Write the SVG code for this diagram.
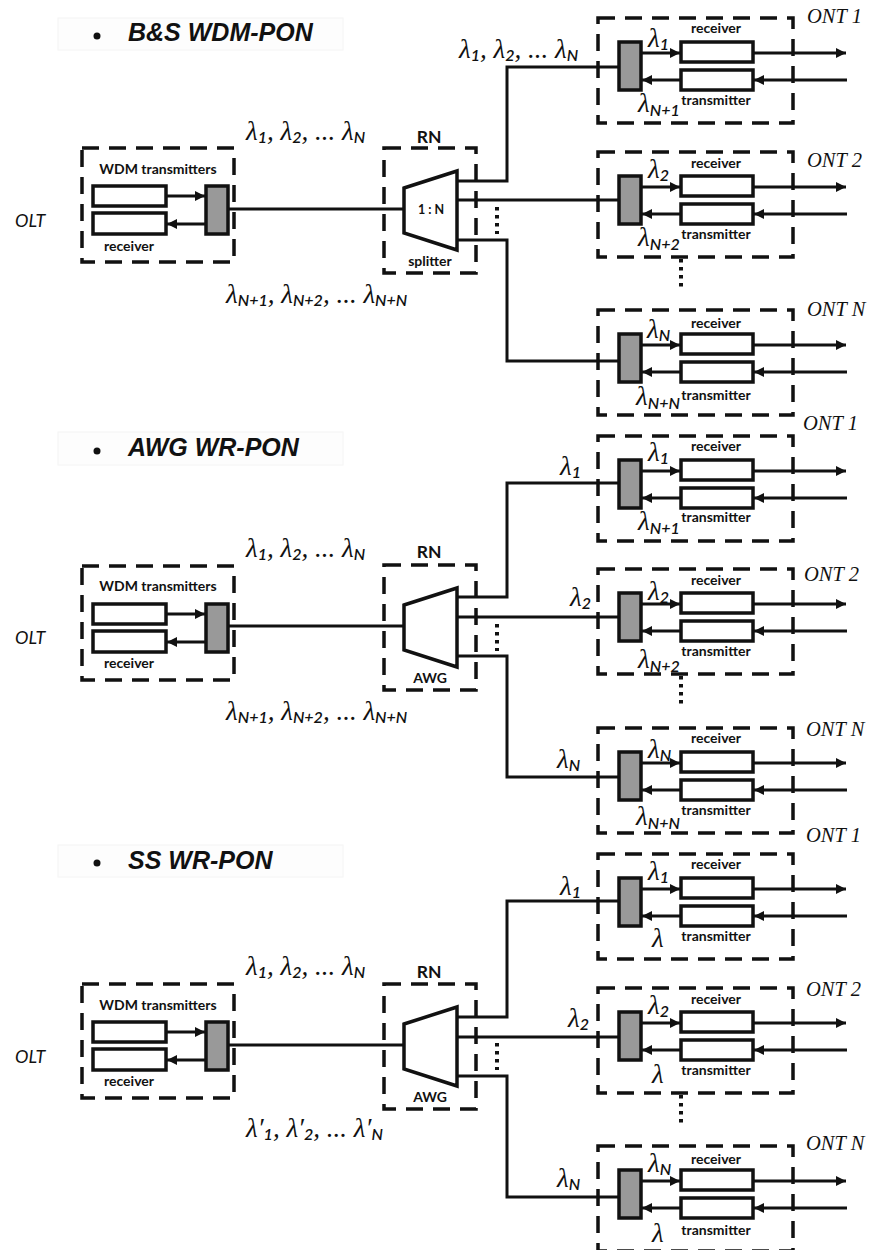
<svg xmlns="http://www.w3.org/2000/svg" xmlns:xlink="http://www.w3.org/1999/xlink" width="869" height="1250" viewBox="0 0 869 1250">
<style>
text{fill:#111}
.t{font:italic bold 25px "Liberation Sans",sans-serif}
.l{font:italic 27px "Liberation Serif",serif}
.s{font:italic 600 16px "Lato",sans-serif}
.b{font:bold 14px "Lato",sans-serif;text-anchor:middle}
.rn{font:bold 17.5px "Lato",sans-serif;text-anchor:middle}
.olt{font:italic 18px "Lato",sans-serif}
.ont{font:italic 20.5px "Liberation Serif",serif}
.d{fill:none;stroke:#111;stroke-width:3.5;stroke-dasharray:17 10}
.w{fill:#fff;stroke:#111;stroke-width:3.5}
.g{fill:#999;stroke:#111;stroke-width:3.5}
.c{fill:none;stroke:#111;stroke-width:3}
.a{fill:none;stroke:#111;stroke-width:3;marker-end:url(#h)}
.v{fill:none;stroke:#111;stroke-width:4;stroke-dasharray:3.5 4.5}
.p{fill:#fdfdfd;stroke:#f4f4f4}
</style>
<defs>
<marker id="h" markerUnits="userSpaceOnUse" markerWidth="12" markerHeight="12" refX="10" refY="6" orient="auto"><path d="M0 1L10 6L0 11Z" fill="#111"/></marker>
<g id="ont-s">
<rect class="d" x="598" y="0" width="195" height="105"/>
<rect class="w" x="681" y="24" width="72" height="20"/>
<rect class="w" x="681" y="52" width="72" height="20"/>
<rect class="g" x="619" y="24" width="22" height="48"/>
<path class="a" d="M641 35H680"/><path class="a" d="M681 62H642"/><path class="a" d="M753 35H846"/><path class="a" d="M847 62H754"/>
</g>
<g id="olt-s">
<rect class="d" x="82" y="0" width="152" height="114"/>
<rect class="w" x="93" y="38" width="73" height="20"/>
<rect class="w" x="93" y="65" width="73" height="21"/>
<rect class="g" x="206" y="38" width="22" height="48"/>
<path class="a" d="M166 48H205"/><path class="a" d="M206 76H167"/>
</g>
<g id="rn-s">
<rect class="d" x="384" y="0" width="92" height="125"/>
<path class="w" d="M404 40L457 23V102L404 85Z"/>
</g>
</defs>
<rect width="869" height="1250" fill="#fff"/>

<g id="connectors">
<path class="c" d="M228 209H404M457 181H507V67H619M457 200H619M457 240H507V361H619"/>
<path class="v" d="M497 207V234M681 259V287"/>
<path class="c" d="M228 626H404M457 597H507V483H619M457 617H619M457 656H507V777H619"/>
<path class="v" d="M497 624V651M681 676V704"/>
<path class="c" d="M228 1045H404M457 1017H507V901H619M457 1037H619M457 1076H507V1197H619"/>
<path class="v" d="M497 1043V1070M681 1095V1123"/>
</g>

<g id="panel-1-title"><rect class="p" x="58" y="18" width="285" height="32"/><circle cx="97" cy="36" r="3.5" fill="#111"/><text class="t" x="128" y="41">B&amp;S WDM-PON</text></g>
<g id="panel-1-olt" transform="translate(0,148)"><use href="#olt-s"/><text class="b" x="158" y="26">WDM transmitters</text><text class="b" x="129" y="103">receiver</text><text class="olt" x="15" y="79">OLT</text></g>
<g id="panel-1-rn" transform="translate(0,148)"><use href="#rn-s"/><text class="rn" x="429" y="-5">RN</text><text class="b" x="431" y="66" style="font-size:12.5px">1 : N</text><text class="b" x="430" y="118">splitter</text></g>
<g id="panel-1-ont-1" transform="translate(0,18)"><use href="#ont-s"/><text class="b" x="716" y="15">receiver</text><text class="b" x="716" y="87">transmitter</text><text class="ont" x="807" y="5">ONT 1</text><text class="l" x="648" y="29">λ<tspan class="s" dy="3">1</tspan></text><text class="l" x="638" y="94">λ<tspan class="s" dy="4">N+1</tspan></text></g>
<g id="panel-1-ont-2" transform="translate(0,152)"><use href="#ont-s"/><text class="b" x="716" y="16">receiver</text><text class="b" x="716" y="87">transmitter</text><text class="ont" x="807" y="15">ONT 2</text><text class="l" x="648" y="26">λ<tspan class="s" dy="3">2</tspan></text><text class="l" x="638" y="94">λ<tspan class="s" dy="4">N+2</tspan></text></g>
<g id="panel-1-ont-n" transform="translate(0,310)"><use href="#ont-s"/><text class="b" x="716" y="18">receiver</text><text class="b" x="716" y="90">transmitter</text><text class="ont" x="807" y="6">ONT N</text><text class="l" x="647" y="28">λ<tspan class="s" dy="3">N</tspan></text><text class="l" x="636" y="95">λ<tspan class="s" dy="4">N+N</tspan></text></g>
<g id="panel-1-labels">
<text class="l" x="246" y="140">λ<tspan class="s" dy="3">1</tspan><tspan dy="-3">, λ</tspan><tspan class="s" dy="3">2</tspan><tspan dy="-3">, ... λ</tspan><tspan class="s" dy="3">N</tspan></text>
<text class="l" x="226" y="303">λ<tspan class="s" dy="3">N+1</tspan><tspan dy="-3">, λ</tspan><tspan class="s" dy="3">N+2</tspan><tspan dy="-3">, ... λ</tspan><tspan class="s" dy="3">N+N</tspan></text>
<text class="l" x="459" y="58">λ<tspan class="s" dy="3">1</tspan><tspan dy="-3">, λ</tspan><tspan class="s" dy="3">2</tspan><tspan dy="-3">, ... λ</tspan><tspan class="s" dy="3">N</tspan></text>
</g>

<g id="panel-2-title"><rect class="p" x="58" y="432" width="285" height="33"/><circle cx="97" cy="451" r="3.5" fill="#111"/><text class="t" x="128" y="456">AWG WR-PON</text></g>
<g id="panel-2-olt" transform="translate(0,566)"><use href="#olt-s"/><text class="b" x="158" y="25">WDM transmitters</text><text class="b" x="129" y="102">receiver</text><text class="olt" x="15" y="78">OLT</text></g>
<g id="panel-2-rn" transform="translate(0,565)"><use href="#rn-s"/><text class="rn" x="429" y="-7">RN</text><text class="b" x="430" y="118">AWG</text></g>
<g id="panel-2-ont-1" transform="translate(0,436)"><use href="#ont-s"/><text class="b" x="716" y="15">receiver</text><text class="b" x="716" y="86">transmitter</text><text class="ont" x="803" y="-6">ONT 1</text><text class="l" x="648" y="25">λ<tspan class="s" dy="3">1</tspan></text><text class="l" x="638" y="94">λ<tspan class="s" dy="4">N+1</tspan></text></g>
<g id="panel-2-ont-2" transform="translate(0,569)"><use href="#ont-s"/><text class="b" x="716" y="16">receiver</text><text class="b" x="716" y="87">transmitter</text><text class="ont" x="804" y="12">ONT 2</text><text class="l" x="648" y="31">λ<tspan class="s" dy="3">2</tspan></text><text class="l" x="638" y="99">λ<tspan class="s" dy="4">N+2</tspan></text></g>
<g id="panel-2-ont-n" transform="translate(0,728)"><use href="#ont-s"/><text class="b" x="716" y="15">receiver</text><text class="b" x="716" y="87">transmitter</text><text class="ont" x="806" y="8">ONT N</text><text class="l" x="648" y="30">λ<tspan class="s" dy="3">N</tspan></text><text class="l" x="636" y="97">λ<tspan class="s" dy="4">N+N</tspan></text></g>
<g id="panel-2-labels">
<text class="l" x="246" y="557">λ<tspan class="s" dy="3">1</tspan><tspan dy="-3">, λ</tspan><tspan class="s" dy="3">2</tspan><tspan dy="-3">, ... λ</tspan><tspan class="s" dy="3">N</tspan></text>
<text class="l" x="226" y="720">λ<tspan class="s" dy="3">N+1</tspan><tspan dy="-3">, λ</tspan><tspan class="s" dy="3">N+2</tspan><tspan dy="-3">, ... λ</tspan><tspan class="s" dy="3">N+N</tspan></text>
<text class="l" x="560" y="475">λ<tspan class="s" dy="3">1</tspan></text>
<text class="l" x="570" y="606">λ<tspan class="s" dy="3">2</tspan></text>
<text class="l" x="557" y="768">λ<tspan class="s" dy="3">N</tspan></text>
</g>

<g id="panel-3-title"><rect class="p" x="58" y="845" width="285" height="32"/><circle cx="97" cy="863" r="3.5" fill="#111"/><text class="t" x="128" y="869">SS WR-PON</text></g>
<g id="panel-3-olt" transform="translate(0,984)"><use href="#olt-s"/><text class="b" x="158" y="26">WDM transmitters</text><text class="b" x="129" y="102">receiver</text><text class="olt" x="15" y="79">OLT</text></g>
<g id="panel-3-rn" transform="translate(0,984)"><use href="#rn-s"/><text class="rn" x="429" y="-6">RN</text><text class="b" x="430" y="118">AWG</text></g>
<g id="panel-3-ont-1" transform="translate(0,854)"><use href="#ont-s"/><text class="b" x="716" y="15">receiver</text><text class="b" x="716" y="87">transmitter</text><text class="ont" x="806" y="-12">ONT 1</text><text class="l" x="648" y="26">λ<tspan class="s" dy="3">1</tspan></text><text class="l" x="652" y="93">λ</text></g>
<g id="panel-3-ont-2" transform="translate(0,988)"><use href="#ont-s"/><text class="b" x="716" y="16">receiver</text><text class="b" x="716" y="87">transmitter</text><text class="ont" x="806" y="8">ONT 2</text><text class="l" x="648" y="26">λ<tspan class="s" dy="3">2</tspan></text><text class="l" x="652" y="95">λ</text></g>
<g id="panel-3-ont-n" transform="translate(0,1146)"><use href="#ont-s"/><text class="b" x="716" y="18">receiver</text><text class="b" x="716" y="89">transmitter</text><text class="ont" x="806" y="4">ONT N</text><text class="l" x="648" y="26">λ<tspan class="s" dy="3">N</tspan></text><text class="l" x="652" y="96">λ</text></g>
<g id="panel-3-labels">
<text class="l" x="246" y="975">λ<tspan class="s" dy="3">1</tspan><tspan dy="-3">, λ</tspan><tspan class="s" dy="3">2</tspan><tspan dy="-3">, ... λ</tspan><tspan class="s" dy="3">N</tspan></text>
<text class="l" x="246" y="1137">λ′<tspan class="s" dy="3">1</tspan><tspan dy="-3">, λ′</tspan><tspan class="s" dy="3">2</tspan><tspan dy="-3">, ... λ′</tspan><tspan class="s" dy="3">N</tspan></text>
<text class="l" x="560" y="895">λ<tspan class="s" dy="3">1</tspan></text>
<text class="l" x="568" y="1027">λ<tspan class="s" dy="3">2</tspan></text>
<text class="l" x="557" y="1187">λ<tspan class="s" dy="3">N</tspan></text>
</g>
</svg>
